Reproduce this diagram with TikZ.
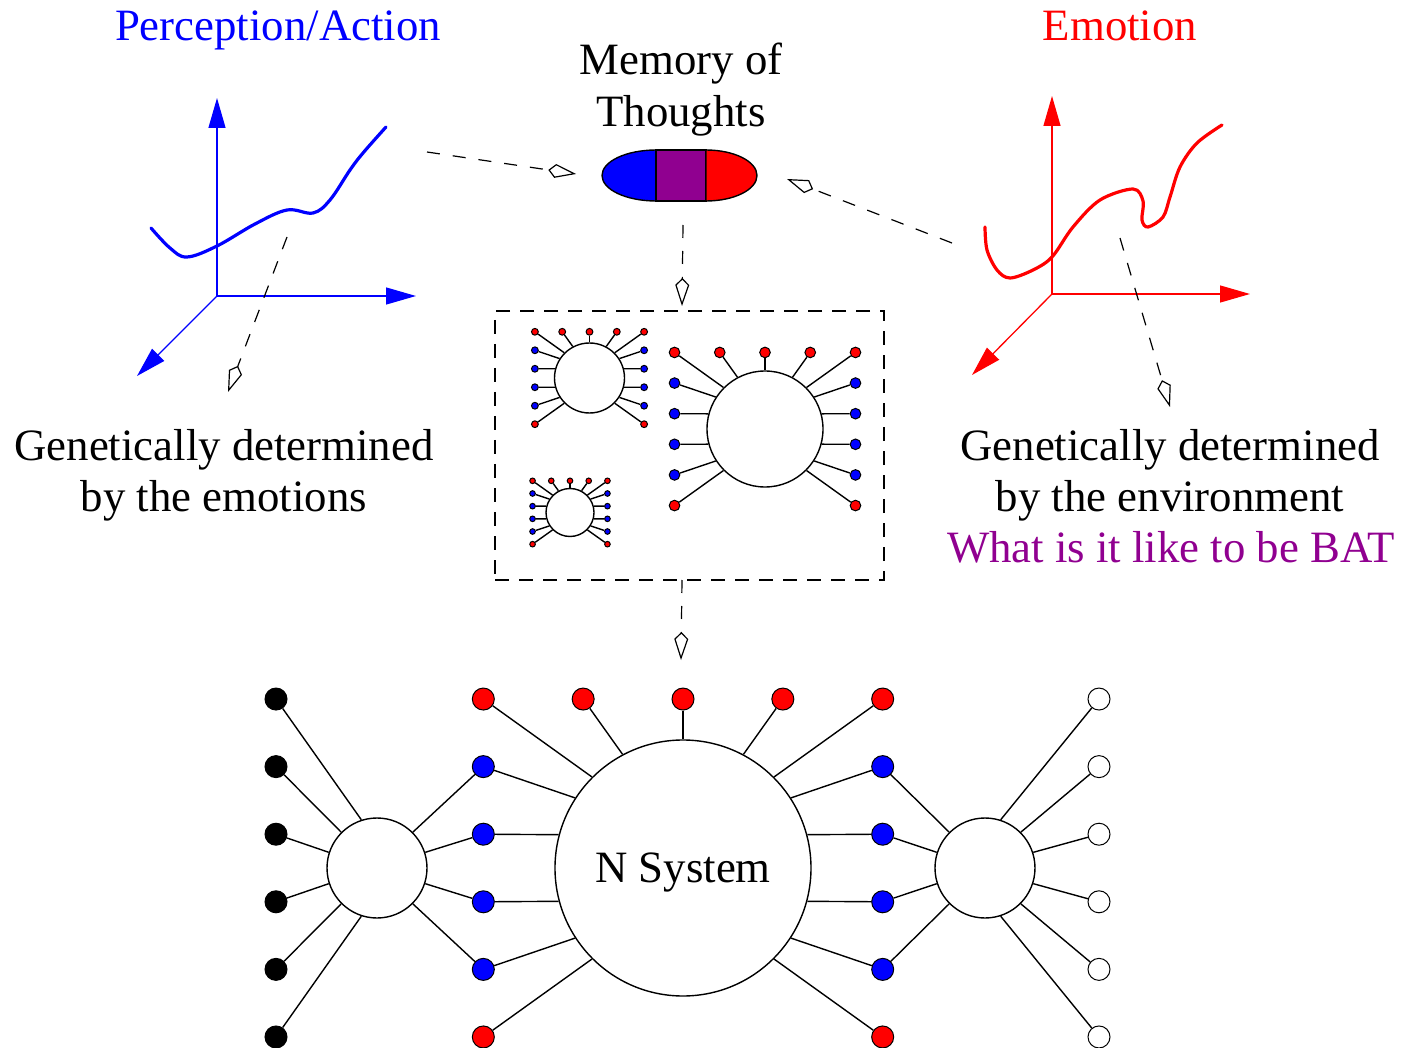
\documentclass[tikz,border=0pt]{standalone}
\usepackage{fontspec}
\setmainfont{Liberation Serif}
\usetikzlibrary{arrows.meta}
\definecolor{bpurple}{RGB}{144,0,144}

\tikzset{
  hub/.style={circle, draw, fill=white, line width=0.7pt, inner sep=0pt, text depth=0pt,
              font=\fontsize{22.4}{25.5}\selectfont},
  spoke/.style={line width=0.7pt},
  dotn/.style={circle, draw, line width=0.5pt, inner sep=0pt},
  axis/.style={line width=0.65pt, -{Triangle[length=15pt,width=8.5pt]}},
  curve/.style={line width=1.6pt, line cap=round},
  memarrow/.style={line width=0.6pt, dash pattern=on 6.5pt off 6.5pt,
                   -{Kite[open,length=14pt,width=7pt,inset=3.5pt]}},
  txt/.style={font=\fontsize{22.4}{25.5}\selectfont, inner sep=0pt, anchor=base},
}

% A neuron net: hub circle with a top row of five red dots and
% a column of dots down each side (blue, red at the lower corners).
% #1 name, #2 cx, #3 cy, #4 hub radius, #5 dot size, #6 hub text
\newcommand\drawnet[6]{%
  \node[hub, minimum size=#4pt] (#1) at (#2,#3) {#6};
  \foreach \k/\xf/\ang in {1/-1.56/135,2/-0.78/118,3/0/90,4/0.78/62,5/1.56/45}{
    \node[dotn, fill=red, minimum size=#5] (#1-t\k) at ({#2+\xf*#4},{#3-1.32*#4}) {};
    \draw[spoke] (#1-t\k) -- (#1.\ang);
  }
  \foreach \k/\yf/\la/\ra/\col in {2/-0.792/147/33/blue, 3/-0.264/165/15/blue,
      4/0.264/195/345/blue, 5/0.792/213/327/blue, 6/1.32/225/315/red}{
    \node[dotn, fill=\col, minimum size=#5] (#1-l\k) at ({#2-1.56*#4},{#3+\yf*#4}) {};
    \node[dotn, fill=\col, minimum size=#5] (#1-r\k) at ({#2+1.56*#4},{#3+\yf*#4}) {};
    \draw[spoke] (#1-l\k) -- (#1.\la);
    \draw[spoke] (#1-r\k) -- (#1.\ra);
  }
}

\begin{document}
\begin{tikzpicture}[x=0.5pt, y=-0.5pt]
\useasboundingbox (0,0) rectangle (1404,1048);

% ---------- titles ----------
\node[txt, text=blue] (tpa) at (278,41) {Perception/Action};
\node[txt, text=red] (temo) at (1120,41) {Emotion};
\node[txt] (tmem1) at (681,75) {Memory of};
\node[txt] (tmem2) at (681,127) {Thoughts};
\node[txt] (tl1) at (224,460) {Genetically determined};
\node[txt] (tl2) at (224,511) {by the emotions};
\node[txt] (tr1) at (1170,460) {Genetically determined};
\node[txt] (tr2) at (1170,511) {by the environment};
\node[txt, text=bpurple] (tr3) at (1171,562) {What is it like to be BAT};

% ---------- perception/action axes ----------
\coordinate (bo) at (217,296);
\coordinate (bz) at (217,98);
\coordinate (bx) at (416,296);
\coordinate (by) at (137,376);
\begin{scope}[blue]
  \draw[axis] (bo) -- (bz);
  \draw[axis] (bo) -- (bx);
  \draw[axis] (bo) -- (by);
  \draw[curve] plot[smooth, tension=0.6] coordinates {(151,228) (170,248) (187,257)
     (217,246) (255,224) (287,210) (313,213) (330,200) (350,170) (363,153) (386,127)};
\end{scope}

% ---------- emotion axes ----------
\coordinate (ro) at (1052,294);
\coordinate (rz) at (1052,96);
\coordinate (rx) at (1250,294);
\coordinate (ry) at (972,375);
\begin{scope}[red]
  \draw[axis] (ro) -- (rz);
  \draw[axis] (ro) -- (rx);
  \draw[axis] (ro) -- (ry);
  \draw[curve] plot[smooth, tension=0.55] coordinates {(985,227) (987,250) (997,270)
     (1010,278) (1033,270) (1052,257) (1073,227) (1100,200) (1133,189) (1143,201)
     (1142,220) (1148,227) (1163,217) (1170,197) (1180,167) (1197,143) (1222,125)};
\end{scope}

% ---------- memory capsule ----------
\node[minimum width=78pt, minimum height=25.5pt, inner sep=0pt] (caps) at (681,175.5) {};
\filldraw[fill=blue, line width=0.7pt] (656,150) arc[start angle=90, end angle=270,
   x radius=27pt, y radius=12.75pt] -- cycle;
\filldraw[fill=bpurple, line width=0.7pt] (656,150) rectangle (706,201);
\filldraw[fill=red, line width=0.7pt] (706,201) arc[start angle=270, end angle=450,
   x radius=25.5pt, y radius=12.75pt] -- cycle;

% ---------- dashed box of thought nets ----------
\node[draw, dash pattern=on 7pt off 5pt, line width=0.6pt, inner sep=0pt,
      minimum width=194.5pt, minimum height=134.5pt] (box) at (689.5,445.5) {};
\drawnet{A}{589.5}{378}{35}{3.4pt}{}
\drawnet{B}{765}{429}{58}{5.3pt}{}
\drawnet{C}{570}{512.5}{24}{2.8pt}{}

% ---------- N system ----------
\drawnet{N}{683}{868}{128}{11pt}{N System}
\node[hub, minimum size=50pt] (L) at (377,868) {};
\node[hub, minimum size=50pt] (R) at (985,868) {};
\foreach \k/\yf/\la/\ra in {1/-1.32/108/72, 2/-0.792/135/45, 3/-0.264/162/18,
    4/0.264/198/342, 5/0.792/225/315, 6/1.32/252/288}{
  \node[dotn, fill=black, minimum size=11pt] (bk\k) at (276,{868+\yf*128}) {};
  \node[dotn, fill=white, minimum size=11pt] (wt\k) at (1099,{868+\yf*128}) {};
  \draw[spoke] (bk\k) -- (L.\la);
  \draw[spoke] (wt\k) -- (R.\ra);
}
\foreach \k/\la/\ra in {2/45/135, 3/18/162, 4/342/198, 5/315/225}{
  \draw[spoke] (N-l\k) -- (L.\la);
  \draw[spoke] (N-r\k) -- (R.\ra);
}

% ---------- dashed links ----------
\coordinate (p1) at (427,152);   \coordinate (p1e) at (576,174);
\coordinate (e1) at (952,243);   \coordinate (e1e) at (787,179);
\coordinate (c1) at (683,225);   \coordinate (c1e) at (682,306);
\coordinate (x1) at (682,580);   \coordinate (x1e) at (681,660);
\coordinate (g1) at (287,237);   \coordinate (g1e) at (228,392);
\coordinate (g2) at (1120,238);  \coordinate (g2e) at (1170,407);
\draw[memarrow] (p1) -- (p1e);
\draw[memarrow] (e1) -- (e1e);
\draw[memarrow] (c1) -- (c1e);
\draw[memarrow] (x1) -- (x1e);
\draw[memarrow] (g1) -- (g1e);
\draw[memarrow] (g2) -- (g2e);
\end{tikzpicture}
\end{document}
